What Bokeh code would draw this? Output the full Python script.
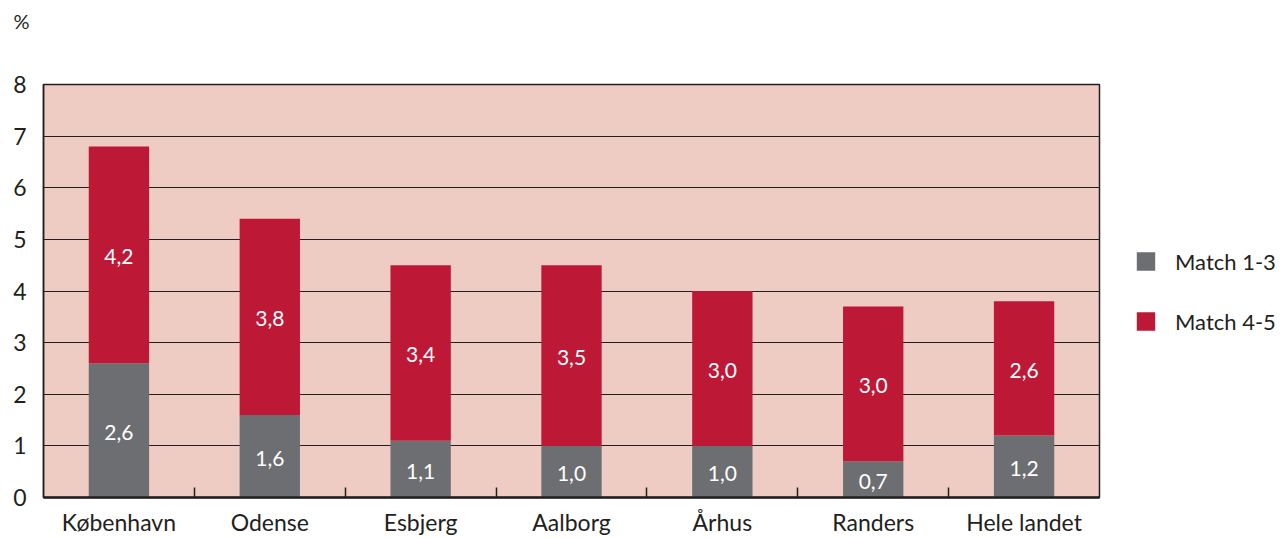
from bokeh.plotting import figure
from bokeh.layouts import row
from bokeh.models import Range1d, FixedTicker, Legend, LegendItem, ColumnDataSource, Title
from bokeh.core.properties import value
from bokeh.embed import file_html
from bokeh.resources import INLINE

categories = ["København", "Odense", "Esbjerg", "Aalborg", "Århus", "Randers", "Hele landet"]
match_1_3 = [2.6, 1.6, 1.1, 1.0, 1.0, 0.7, 1.2]
match_4_5 = [4.2, 3.8, 3.4, 3.5, 3.0, 3.0, 2.6]
y_ticks = [0, 1, 2, 3, 4, 5, 6, 7, 8]
series_names = ["Match 1-3", "Match 4-5"]
unit = "%"

FONT = "Lato"
DARK = "#231f20"
GREY = "#6d6e71"
RED = "#be1837"
BG = "#eecbc3"

xs = [i + 0.5 for i in range(len(categories))]
src = ColumnDataSource(dict(x=xs, m13=match_1_3, m45=match_4_5))

# ---------------- main chart ----------------
p = figure(width=1110, height=538, output_backend="svg", toolbar_location=None,
           x_range=Range1d(0, len(categories)), y_range=Range1d(0, 8),
           min_border_left=43, min_border_right=11, min_border_top=84, min_border_bottom=41)
p.background_fill_color = BG
p.border_fill_color = "white"
p.outline_line_color = DARK
p.outline_line_width = 1.5

# spacer (closest to frame) then the unit label above it
p.add_layout(Title(text=" ", text_font=FONT, text_font_size="20px", standoff=16), "above")
p.add_layout(Title(text=unit, align="left", vertical_align="top", offset=-30, standoff=16,
                   text_font=FONT, text_font_size="20px", text_font_style="normal",
                   text_color=DARK), "above")

p.vbar_stack(["m13", "m45"], x="x", width=0.4, source=src,
             color=[GREY, RED], line_color=None)

# value labels
lab_x, lab_y, lab_t = [], [], []
for x, a, b in zip(xs, match_1_3, match_4_5):
    lab_x += [x, x]
    lab_y += [a / 2, a + b / 2]
    lab_t += [f"{a:.1f}".replace(".", ","), f"{b:.1f}".replace(".", ",")]
p.text(x=lab_x, y=lab_y, text=lab_t, text_color="white", text_align="center",
       text_baseline="middle", text_font=value(FONT), text_font_size="21px", y_offset=2)

# grid
p.xgrid.visible = False
p.ygrid.ticker = FixedTicker(ticks=y_ticks)
p.ygrid.grid_line_color = DARK
p.ygrid.grid_line_width = 1.2

# y axis
p.yaxis.ticker = FixedTicker(ticks=y_ticks)
p.yaxis.major_tick_line_color = None
p.yaxis.minor_tick_line_color = None
p.yaxis.axis_line_color = DARK
p.yaxis.axis_line_width = 1.5
p.yaxis.major_label_standoff = 11
p.yaxis.major_label_text_font = FONT
p.yaxis.major_label_text_font_size = "23px"
p.yaxis.major_label_text_color = DARK

# x axis
p.xaxis.ticker = FixedTicker(ticks=xs, minor_ticks=list(range(1, len(categories))))
p.xaxis.major_label_overrides = {x: c for x, c in zip(xs, categories)}
p.xaxis.major_tick_line_color = None
p.xaxis.minor_tick_in = 10
p.xaxis.minor_tick_out = 0
p.xaxis.minor_tick_line_color = DARK
p.xaxis.minor_tick_line_width = 1.5
p.xaxis.axis_line_color = DARK
p.xaxis.axis_line_width = 2.5
p.xaxis.major_label_standoff = 4
p.xaxis.major_label_text_font = FONT
p.xaxis.major_label_text_font_size = "23px"
p.xaxis.major_label_text_color = DARK

# ---------------- legend panel ----------------
q = figure(width=171, height=538, output_backend="svg", toolbar_location=None,
           x_axis_type=None, y_axis_type=None,
           min_border_left=0, min_border_right=0, min_border_top=46, min_border_bottom=0)
q.outline_line_color = None
q.background_fill_color = "white"
q.border_fill_color = "white"
q.xgrid.visible = False
q.ygrid.visible = False
rs = q.vbar_stack(["m13", "m45"], x="x", width=0.4, source=src,
                  color=[GREY, RED], line_color=None, visible=False)

legend = Legend(items=[LegendItem(label=n, renderers=[r]) for n, r in zip(series_names, rs)],
                location="center_left", margin=24, padding=10, spacing=33,
                glyph_width=23, glyph_height=23, label_height=20, label_standoff=18,
                label_text_font=FONT, label_text_font_size="22px", label_text_color=DARK,
                border_line_color=None, background_fill_alpha=0, inactive_fill_alpha=0)
q.add_layout(legend)

layout = row(p, q, spacing=0)
open("out.html", "w").write(file_html(layout, INLINE))
